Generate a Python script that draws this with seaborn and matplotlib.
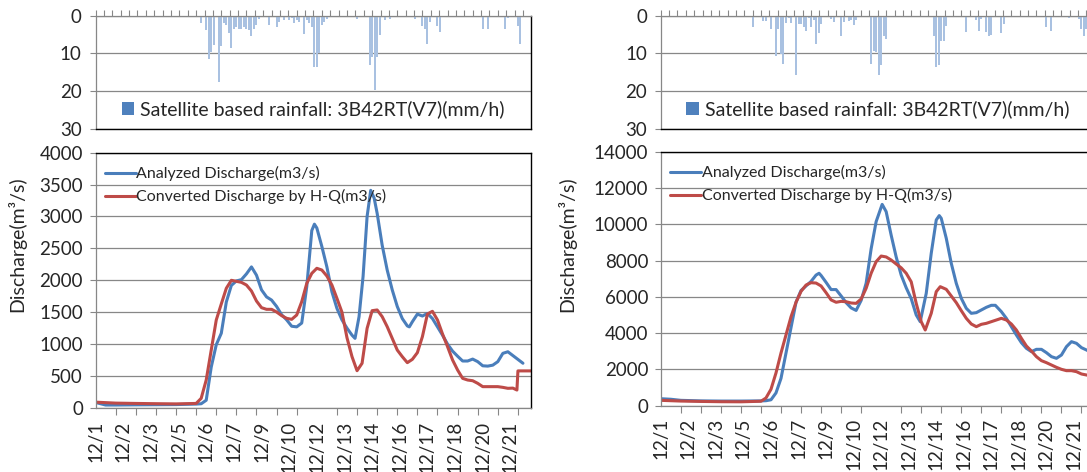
import matplotlib
matplotlib.use("Agg")
import matplotlib.pyplot as plt
import seaborn as sns
import numpy as np
from matplotlib.patches import Patch
from matplotlib.ticker import FixedLocator, MultipleLocator, NullFormatter

# ---------------- data ----------------
x_labels = ['12/1', '12/2', '12/3', '12/5', '12/6', '12/7', '12/9', '12/10',
            '12/12', '12/13', '12/14', '12/16', '12/17', '12/18', '12/20', '12/21']
label_hours = [0, 33, 66, 99, 132, 165, 198, 231, 264, 297, 330, 363, 396, 429, 462, 495]

# left panel - rainfall (3-hourly step index, mm/h)
rain_left_step = [36, 37, 40, 42, 44, 45, 46, 47, 49, 50, 51, 52, 53, 54, 55, 56, 57, 58, 59, 60,
                  61, 62, 63, 64, 65, 69, 72, 73, 75, 77, 78, 79, 80, 81, 83, 84, 85, 86, 87, 88,
                  89, 90, 91, 92, 97, 104, 105, 109, 110, 111, 112, 113, 115, 117, 121, 127, 130,
                  131, 132, 133, 136, 137, 139, 142, 154, 156, 163, 164, 168, 169, 170]
rain_left_mm = [0.3, 0.4, 0.3, 1.9, 3.8, 11.6, 9.6, 7.8, 17.5, 8.0, 1.9, 2.5, 4.5, 8.7, 3.4, 2.9, 3.5, 3.6, 3.1, 3.4,
                3.8, 5.4, 3.4, 2.5, 1.0, 2.5, 3.1, 1.6, 1.2, 1.2, 0.7, 2.0, 1.2, 1.6, 4.9, 1.2, 1.9, 3.1, 13.7, 13.7,
                10.0, 2.5, 1.6, 1.0, 0.3, 0.9, 0.4, 13.1, 10.9, 19.6, 10.9, 5.1, 1.2, 0.9, 0.4, 1.0, 2.7,
                3.4, 7.6, 1.6, 2.7, 4.4, 0.4, 0.4, 3.4, 3.4, 3.6, 0.7, 2.7, 7.5, 0.4]

# left panel - discharge (day offset from 12/1, m3/s)
days_left_analyzed = [0, 0.5, 1, 2, 3, 4, 5, 5.25, 5.5, 5.75, 6.0, 6.25, 6.5, 6.75, 7.0, 7.25, 7.5, 7.75,
                      8.0, 8.25, 8.5, 8.75, 9.0, 9.25, 9.5, 9.75, 10.0, 10.25, 10.5, 10.75, 10.88, 11.0,
                      11.25, 11.5, 11.75, 12.0, 12.25, 12.5, 12.75, 12.9, 13.1, 13.3, 13.5, 13.68, 13.85,
                      14.0, 14.25, 14.5, 14.75, 15.0, 15.25, 15.5, 15.6, 15.75, 16.0, 16.25, 16.5, 16.75,
                      17.0, 17.25, 17.5, 17.75, 18.0, 18.25, 18.5, 18.75, 19.0, 19.25, 19.5, 19.75, 20.0,
                      20.25, 20.5, 20.75, 21.0, 21.25]
analyzed_left = [85, 45, 45, 48, 50, 52, 60, 65, 120, 640, 990, 1170, 1660, 1920, 1990, 2010, 2100, 2210,
                 2080, 1850, 1740, 1690, 1590, 1460, 1380, 1280, 1270, 1330, 1900, 2780, 2880, 2820,
                 2530, 2210, 1820, 1560, 1380, 1250, 1140, 1090, 1430, 2060, 3000, 3410, 3290,
                 3050, 2550, 2160, 1850, 1590, 1400, 1285, 1270, 1350, 1470, 1440, 1480, 1400,
                 1270, 1140, 1000, 890, 810, 735, 735, 765, 725, 660, 655, 670, 725,
                 855, 880, 820, 760, 700]

days_left_converted = [0, 1, 2, 3, 4, 5, 5.25, 5.5, 5.75, 6.0, 6.25, 6.5, 6.75, 7.0, 7.25, 7.5, 7.75, 8.0,
                       8.25, 8.5, 8.75, 9.0, 9.25, 9.5, 9.75, 10.0, 10.25, 10.5, 10.75, 11.0, 11.25, 11.5,
                       11.75, 12.0, 12.25, 12.5, 12.75, 13.0, 13.25, 13.5, 13.75, 14.0, 14.25, 14.5, 14.75,
                       15.0, 15.25, 15.5, 15.75, 16.0, 16.25, 16.5, 16.75, 17.0, 17.25, 17.5, 17.75, 18.0,
                       18.25, 18.5, 18.75, 19.0, 19.25, 19.5, 19.75, 20.0, 20.25, 20.5, 20.75, 20.95, 21.0,
                       21.65]
converted_left = [90, 75, 70, 66, 63, 70, 150, 437, 907, 1378, 1629, 1875, 2000, 1984, 1968, 1926, 1832, 1675,
                  1571, 1545, 1545, 1503, 1446, 1404, 1388, 1456, 1665, 1952, 2109, 2188, 2161, 2067,
                  1926, 1717, 1500, 1100, 803, 583, 699, 1247, 1524, 1535, 1430, 1273, 1090,
                  907, 803, 709, 761, 866, 1117, 1472, 1514, 1378, 1159, 960, 751, 594,
                  463, 437, 426, 385, 333, 333, 333, 333, 322, 307, 310, 280, 580,
                  580]

# right panel - rainfall
rain_right_step = [37, 40, 41, 42, 44, 46, 47, 48, 49, 50, 51, 52, 54, 55, 56, 57, 58, 59, 60, 61,
                   62, 63, 64, 65, 68, 69, 72, 73, 75, 76, 77, 78, 80, 84, 85, 86, 87, 88, 89, 90,
                   91, 96, 104, 105, 109, 110, 111, 112, 113, 114, 116, 121, 122, 125, 126, 127, 128,
                   130, 131, 132, 135, 136, 137, 141, 149, 154, 156, 163, 167, 168, 169, 170]
rain_right_mm = [3.1, 0.3, 1.3, 1.3, 3.4, 10.8, 3.4, 10.3, 12.8, 1.9, 0.7, 1.9, 15.7, 2.2, 2.2, 2.9, 4.0, 0.7, 2.9, 1.2,
                 7.4, 4.6, 2.2, 0.4, 1.0, 1.6, 5.4, 1.6, 1.3, 1.2, 2.5, 1.2, 0.4, 12.8, 9.4, 9.6, 15.7, 13.2, 5.4, 6.3,
                 0.4, 0.3, 0.4, 0.4, 5.4, 13.7, 13.2, 6.7, 6.7, 2.8, 0.4, 0.3, 4.3, 0.4, 1.2, 4.0, 1.0,
                 4.3, 5.4, 5.2, 0.4, 4.7, 2.2, 0.3, 0.4, 3.1, 4.0, 0.7, 1.0, 3.4, 5.4, 3.4]

# right panel - discharge
days_right_analyzed = [0, 0.5, 1, 2, 3, 4, 5, 5.25, 5.5, 5.75, 6.0, 6.25, 6.5, 6.75, 7.0, 7.25, 7.5, 7.75,
                       7.9, 8.0, 8.25, 8.5, 8.75, 9.0, 9.25, 9.5, 9.75, 10.0, 10.25, 10.5, 10.75, 11.05,
                       11.25, 11.5, 11.75, 12.0, 12.25, 12.5, 12.75, 12.95, 13.25, 13.5, 13.75, 13.9, 14.0,
                       14.25, 14.5, 14.75, 15.0, 15.25, 15.5, 15.75, 16.0, 16.25, 16.5, 16.7, 17.0, 17.25,
                       17.5, 17.75, 18.0, 18.25, 18.5, 18.75, 19.0, 19.25, 19.5, 19.75, 20.0, 20.25, 20.5,
                       20.75, 21.0, 21.25, 21.7]
analyzed_right = [380, 350, 290, 260, 250, 250, 260, 270, 320, 700, 1500, 2900, 4300, 5700, 6350, 6600, 6850, 7200,
                  7300, 7180, 6800, 6400, 6400, 6050, 5680, 5390, 5250, 5800, 6750, 8650, 10150, 11100,
                  10700, 9400, 8200, 7200, 6500, 5900, 5000, 4630, 6190, 8400, 10240, 10480, 10330,
                  9230, 7850, 6745, 5920, 5366, 5090, 5127, 5274, 5421, 5532, 5532, 5182, 4814,
                  4354, 3895, 3472, 3159, 2975, 3104, 3104, 2920, 2700, 2608, 2791, 3251, 3527,
                  3435, 3196, 3067, 2800]

days_right_converted = [0, 1, 2, 3, 4, 5, 5.25, 5.5, 5.75, 6.0, 6.25, 6.5, 6.75, 7.0, 7.25, 7.5, 7.75, 8.0,
                        8.25, 8.5, 8.75, 9.0, 9.25, 9.5, 9.75, 10.0, 10.25, 10.5, 10.75, 11.0, 11.25, 11.5,
                        11.75, 12.0, 12.25, 12.5, 12.75, 13.0, 13.2, 13.5, 13.75, 13.95, 14.25, 14.5, 14.75,
                        15.0, 15.25, 15.5, 15.75, 16.0, 16.25, 16.5, 16.75, 17.0, 17.25, 17.5, 17.75, 18.0,
                        18.25, 18.5, 18.75, 19.0, 19.25, 19.5, 19.75, 20.0, 20.25, 20.5, 20.75, 21.0, 21.25,
                        21.7]
converted_right = [290, 250, 230, 215, 210, 240, 420, 900, 1800, 2900, 3900, 4900, 5700, 6300, 6650, 6780, 6760, 6600,
                   6230, 5830, 5700, 5750, 5730, 5660, 5640, 5880, 6470, 7300, 7940, 8250, 8200, 8030,
                   7810, 7600, 7300, 6830, 5640, 4630, 4170, 5090, 6285, 6560, 6414, 6046, 5679,
                   5237, 4814, 4501, 4354, 4483, 4538, 4630, 4722, 4814, 4722, 4501, 4170, 3711,
                   3288, 3012, 2700, 2479, 2369, 2240, 2111, 2001, 1927, 1927, 1872, 1743, 1688,
                   1600]

# ---------------- style ----------------
sns.set_theme(style="white")
plt.rcParams['font.family'] = ['Lato', 'DejaVu Sans']

BLUE = '#4A7EBB'
RED = '#BE4B48'
RAIN = '#A9C1E1'
RAIN_LEG = '#4F81BD'
GRID = '#878787'

W, H = 1087, 472
fig = plt.figure(figsize=(W / 100, H / 100), dpi=100)
fig.patch.set_facecolor('white')


def frac(x0, y0, x1, y1):
    return [x0 / W, 1 - y1 / H, (x1 - x0) / W, (y1 - y0) / H]


XMAX = 21.65
TICK_FS = 13.5


def draw_rain(ax, steps, mm):
    days = np.array(steps) * 3 / 24.0
    ax.bar(days, mm, width=0.1, color=RAIN, edgecolor='none', align='center')
    ax.set_xlim(0, XMAX)
    ax.set_ylim(30, 0)
    ax.set_yticks([0, 10, 20, 30])
    ax.yaxis.grid(True, color=GRID, linewidth=0.9)
    ax.xaxis.grid(False)
    ax.xaxis.tick_top()
    ax.xaxis.set_major_locator(MultipleLocator(10 / 24.0))
    ax.xaxis.set_major_formatter(NullFormatter())
    ax.tick_params(axis='x', which='major', direction='out', length=4, width=0.8,
                   color=GRID, top=True, bottom=False)
    ax.tick_params(axis='y', direction='out', length=4, width=0.8, color=GRID,
                   labelsize=TICK_FS, pad=6, left=True)
    for s in ['top', 'left']:
        ax.spines[s].set_color(GRID)
        ax.spines[s].set_linewidth(0.9)
    for s in ['bottom', 'right']:
        ax.spines[s].set_color('black')
        ax.spines[s].set_linewidth(1.0)
    ax.set_xlabel('')
    ax.set_ylabel('')
    h = Patch(facecolor=RAIN_LEG, edgecolor='none')
    ax.legend([h], ['Satellite based rainfall: 3B42RT(V7)(mm/h)'], loc='lower center',
              frameon=False, fontsize=14, handlelength=0.65, handleheight=0.65,
              handletextpad=0.3, borderaxespad=0.15)


def draw_dis(ax, da, va, dc, vc, ymax, ystep, ylab_x, ylab_y):
    sns.lineplot(x=da, y=va, ax=ax, color=BLUE, linewidth=2.2,
                 label='Analyzed Discharge(m3/s)')
    sns.lineplot(x=dc, y=vc, ax=ax, color=RED, linewidth=2.2,
                 label='Converted Discharge by H-Q(m3/s)')
    ax.set_xlim(0, XMAX)
    ax.set_ylim(0, ymax)
    ax.yaxis.set_major_locator(MultipleLocator(ystep))
    ax.yaxis.grid(True, color=GRID, linewidth=0.9)
    ax.xaxis.grid(False)
    ax.xaxis.set_major_locator(FixedLocator([h / 24.0 for h in label_hours]))
    ax.set_xticklabels(x_labels, rotation=90, fontsize=TICK_FS)
    ax.xaxis.set_minor_locator(MultipleLocator(1.0))
    ax.tick_params(axis='x', which='major', length=0, pad=9, bottom=True)
    ax.tick_params(axis='x', which='minor', direction='out', length=5, width=0.8,
                   color=GRID, bottom=True)
    ax.tick_params(axis='y', direction='out', length=4, width=0.8, color=GRID,
                   labelsize=TICK_FS, pad=5, left=True)
    for s in ['bottom', 'left']:
        ax.spines[s].set_color(GRID)
        ax.spines[s].set_linewidth(0.9)
    for s in ['top', 'right']:
        ax.spines[s].set_color('black')
        ax.spines[s].set_linewidth(1.0)
    ax.set_xlabel('')
    ax.set_ylabel('Discharge(m³/s)', fontsize=14)
    ax.yaxis.set_label_coords(ylab_x, ylab_y)
    ax.legend(loc='upper left', frameon=False, fontsize=11.5, handlelength=1.9,
              handletextpad=0.05, labelspacing=0.5, borderaxespad=0.2,
              bbox_to_anchor=(0.0, 0.985))


ax_rl = fig.add_axes(frac(95.6, 15.7, 531, 128.7))
ax_dl = fig.add_axes(frac(95.6, 152.7, 531, 407.9))
ax_rr = fig.add_axes(frac(660.8, 15.7, 1094.5, 128.7))
ax_dr = fig.add_axes(frac(660.8, 151.8, 1094.5, 405.6))

draw_rain(ax_rl, rain_left_step, rain_left_mm)
draw_rain(ax_rr, rain_right_step, rain_right_mm)
draw_dis(ax_dl, days_left_analyzed, analyzed_left, days_left_converted, converted_left,
         4000, 500, -0.16, 0.64)
draw_dis(ax_dr, days_right_analyzed, analyzed_right, days_right_converted, converted_right,
         14000, 2000, -0.195, 0.635)

fig.savefig('out.png', dpi=100, facecolor='white')
